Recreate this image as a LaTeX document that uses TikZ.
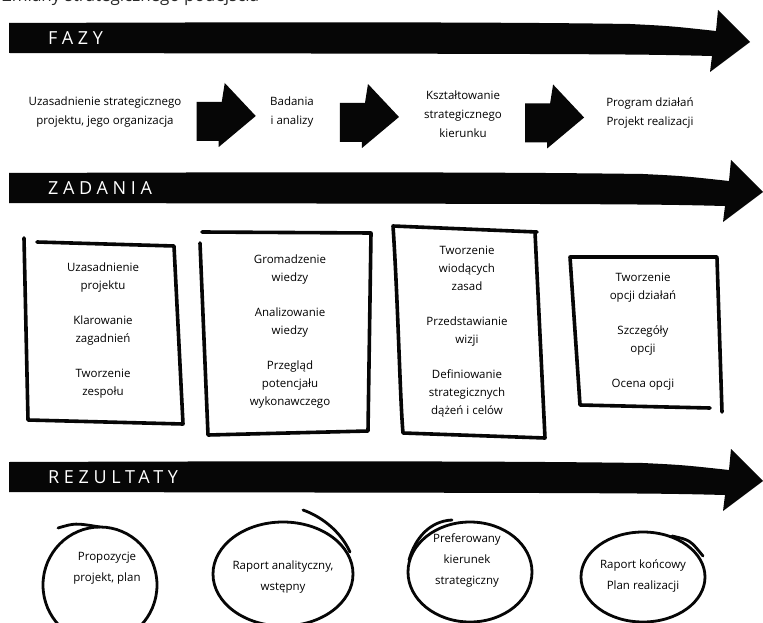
\documentclass[tikz,border=0pt]{standalone}
\usepackage{fontspec}
\setmainfont{Open Sans}
\newfontfamily\bandfont[LetterSpace=26]{Open Sans}
\usepackage{tikz}
\usetikzlibrary{calc}
\definecolor{ink}{HTML}{060606}
\tikzset{
  band/.style={fill=ink},
  bandlbl/.style={font=\bandfont\fontsize{18}{18}\selectfont, text=white, anchor=west, inner sep=0pt},
  fat/.style={fill=ink},
  heading/.style={font=\fontsize{17}{17}\selectfont, anchor=base west, inner sep=0pt, text=ink!85},
  phase/.style={align=center, font=\fontsize{11.5}{19}\selectfont, inner sep=1pt},
  task/.style={align=center, font=\fontsize{11.5}{18}\selectfont, inner sep=1pt},
  result/.style={align=center, font=\fontsize{11.5}{21}\selectfont, inner sep=1pt},
  sheet/.style={draw=ink, line width=3.6pt, line cap=round, line join=round},
  ring/.style={draw=ink, line width=2.8pt, line cap=round},
}
\newcommand{\band}[4]{%
  \fill[band] (9,#1) .. controls (300,#1-1) and (500,#1-1) .. (#2-120,#1+1)
    .. controls (#2-80,#1+3) .. (#2-34,#1+8) -- (#2-32,#1-13) -- (#2,#1+19)
    -- (#2-40,#1+49) -- (#2-38,#1+33) .. controls (#2-120,#1+31) .. (9,#1+30) -- cycle;
  \node[bandlbl] (#4) at (48,#1+15) {#3};}
\newcommand{\fatarrow}[1]{%
  \begin{scope}[shift={(#1)}]
    \fill[fat] (-29,-10) -- (-4,-10) -- (-1,-29) -- (30,4) -- (-7,35) -- (-7,29) -- (-29,29) -- cycle;
  \end{scope}}

\begin{document}
\begin{tikzpicture}[x=1pt,y=-1pt]
  \path[fill=white, use as bounding box] (0,0) rectangle (763,623);
  \node[heading] (title) at (2,2) {Zmiany strategicznego podejścia};

  \band{23}{750}{FAZY}{fazy}
  \band{173}{763}{ZADANIA}{zadania}
  \band{462}{763}{REZULTATY}{rezultaty}

  \node[phase] (fz1) at (105,112) {Uzasadnienie strategicznego\\projektu, jego organizacja};
  \node[phase] (fz2) at (292,112) {Badania\\i analizy};
  \node[phase] (fz3) at (463,114) {Kształtowanie\\strategicznego\\kierunku};
  \node[phase] (fz4) at (650,113) {Program działań\\Projekt realizacji};
  \foreach \a/\b in {fz1/fz2, fz2/fz3, fz3/fz4}
    \fatarrow{$(\a.east)!0.5!(\b.west)$};

  \draw[sheet] (24,238) -- (28,420) -- (183,424) -- (174,246) -- (37,242);
  \draw[sheet] (200,243) -- (208,435) -- (368,431) -- (371,233) -- (202,232);
  \draw[sheet] (537,232) -- (393,226) .. controls (398,300) and (400,400) .. (403,433) -- (545,438) -- (535,232);
  \draw[sheet] (717,257) -- (570,257) -- (580,405) -- (710,408);
  \draw[sheet] (717,258) -- (722,412);

  \node[task] (zd1) at (103,331) {Uzasadnienie\\projektu\\[17pt]Klarowanie\\zagadnień\\[17pt]Tworzenie\\zespołu};
  \node[task] (zd2) at (290,332) {Gromadzenie\\wiedzy\\[17pt]Analizowanie\\wiedzy\\[17pt]Przegląd\\potencjału\\wykonawczego};
  \node[task] (zd3) at (467,332) {Tworzenie\\wiodących\\zasad\\[17pt]Przedstawianie\\wizji\\[17pt]Definiowanie\\strategicznych\\dążeń i celów};
  \node[task] (zd4) at (643,332) {Tworzenie\\opcji działań\\[17pt]Szczegóły\\opcji\\[17pt]Ocena opcji};

  \draw[ring] (100,585) ellipse [x radius=57, y radius=58];
  \draw[ring] (58,528) .. controls (75,523) .. (100,527);
  \draw[ring] (283,574) ellipse [x radius=70, y radius=52];
  \draw[ring] (303,510) .. controls (320,516) and (340,530) .. (350,552);
  \draw[ring] (470,572) ellipse [x radius=62, y radius=50];
  \draw[ring] (452,520) .. controls (430,521) and (415,538) .. (409,560);
  \draw[ring] (643,577) ellipse [x radius=62, y radius=45];
  \draw[ring] (672,536) .. controls (690,540) .. (703,556);

  \node[result] (rz1) at (107,568) {Propozycje\\projekt, plan};
  \node[result] (rz2) at (283,577) {Raport analityczny,\\wstępny};
  \node[result] (rz3) at (467,560) {Preferowany\\kierunek\\strategiczny};
  \node[result] (rz4) at (643,576) {Raport końcowy\\Plan realizacji};
\end{tikzpicture}
\end{document}
